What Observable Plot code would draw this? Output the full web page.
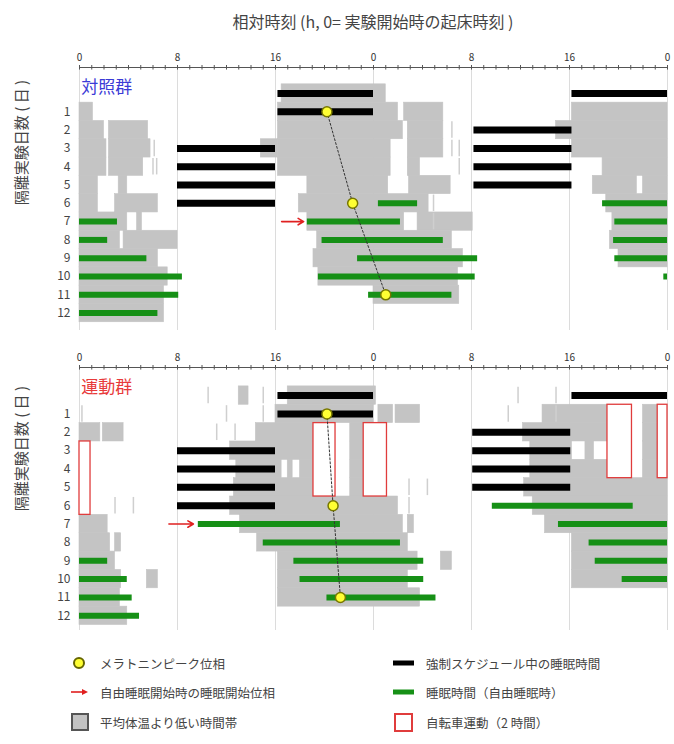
<!DOCTYPE html>
<html><head><meta charset="utf-8">
<script src="https://cdn.jsdelivr.net/npm/d3@7"></script>
<script src="https://cdn.jsdelivr.net/npm/@observablehq/plot@0.6"></script>
<style>
body{margin:0;background:#fff;font-family:"Noto Sans CJK JP",sans-serif;color:#333;}
#wrap{position:relative;width:674px;height:744px;overflow:hidden;}
#title{position:absolute;left:36px;width:674px;top:9px;text-align:center;font-size:16px;color:#444;}
#p1{position:absolute;left:0;top:35px;}
#p2{position:absolute;left:0;top:335px;}
.lg{position:absolute;font-size:12.5px;color:#444;display:flex;align-items:center;height:20px;}
.lg svg{margin-right:10px;}
</style></head>
<body><div id="wrap">
<div id="title">相対時刻 (h, 0= 実験開始時の起床時刻 )</div>
<div id="p1"></div><div id="p2"></div>
<div class="lg" style="left:70px;top:653px"><svg width="20" height="20"><circle cx="9" cy="10" r="5" fill="#ffff33" stroke="#666600" stroke-width="2"/></svg>メラトニンピーク位相</div>
<div class="lg" style="left:70px;top:682px"><svg width="20" height="20"><line x1="1" y1="10" x2="15" y2="10" stroke="#e02020" stroke-width="1.6"/><path d="M12,7 L18,10 L12,13 Z" fill="#e02020"/></svg>自由睡眠開始時の睡眠開始位相</div>
<div class="lg" style="left:70px;top:712px"><svg width="20" height="20"><rect x="2" y="2" width="16" height="16" fill="#c3c3c3" stroke="#555" stroke-width="2"/></svg>平均体温より低い時間帯</div>
<div class="lg" style="left:392px;top:653px"><svg width="24" height="20"><line x1="1" y1="10" x2="22" y2="10" stroke="#000" stroke-width="5"/></svg>強制スケジュール中の睡眠時間</div>
<div class="lg" style="left:392px;top:682px"><svg width="24" height="20"><line x1="1" y1="10" x2="22" y2="10" stroke="#169016" stroke-width="5"/></svg>睡眠時間（自由睡眠時）</div>
<div class="lg" style="left:392px;top:712px"><svg width="24" height="20"><rect x="3" y="2" width="17" height="17" fill="#fff" stroke="#e03c3c" stroke-width="2"/></svg>自転車運動（2 時間）</div>
</div>
<script>
// ---------- shared ticks ----------
const hourTicks = d3.range(0, 49);
const majorTicks = [0, 8, 16, 24, 32, 40, 48];
const dayLabels = d3.range(1, 13);

// ---------- 対照群 (control) : [row, startHour, endHour] ----------
const ctrlForced = [[0,16.2,24],[1,16.2,24],[3,8,16],[4,8,16],[5,8,16],[6,8,16],
  [0,40.2,48],[2,32.2,40.2],[3,32.2,40.2],[4,32.2,40.2],[5,32.2,40.2]];
const ctrlFree = [[7,0,3.1],[8,0,2.3],[9,0,5.5],[10,0,8.4],[11,0,8.1],[12,0,6.4],
  [6,24.4,27.6],[7,18.6,26.2],[8,19.8,29.7],[9,22.7,32.5],[10,19.5,32.3],[11,23.6,30.4],
  [6,42.7,48],[7,43.7,48],[8,43.6,48],[9,43.7,48],[10,47.7,48]];
const ctrlLow = [[1,0,1.1],[2,0,2.0],[2,2.4,5.6],[3,0,2.2],[3,2.4,5.8],[3,14.8,16.2],
  [4,0,2.2],[4,2.4,5.2],[5,0,1.5],[5,3.2,3.9],[6,0,1.5],[6,2.9,6.4],
  [7,0,3.9],[7,4.7,5.1],[8,0,3.3],[8,3.6,8.0],[9,0,6.4],[10,0,7.2],[11,0,6.9],[12,0,6.9],
  [0,16.5,25.0],[1,16.2,26.0],[1,26.5,29.7],[2,16.2,26.4],[2,26.8,29.7],
  [3,16.2,25.4],[3,26.8,29.7],[4,16.2,25.4],[4,26.8,27.8],[5,18.6,25.2],[5,26.9,30.3],
  [6,17.9,28.5],[7,18.6,26.5],[7,27.6,32.1],[8,19.4,30.4],[9,19.1,31.3],[10,19.5,30.9],[11,24.0,31.0],
  [1,40.2,48],[2,38.9,48],[3,40.2,48],[4,42.7,48],[5,41.9,45.5],[5,46.0,48],
  [6,43.0,48],[7,43.5,48],[8,43.3,48],[9,44.0,48]];
const ctrlFaint = [[3,6.1],[4,6.0],[4,6.3],[2,30.4],[3,30.4],[3,31.0],[4,31.0],[6,28.9],[7,28.9]];
const ctrlMelatonin = [[1,20.2],[6,22.3],[11,25.0]];
const ctrlArrow = [[7,16.5,18.3]];
const ctrlBike = [];

// ---------- 運動群 (exercise) ----------
const exForced = [[0,16.2,24],[1,16.2,24],[3,8,16],[4,8,16],[5,8,16],[6,8,16],
  [0,40.2,48],[2,32.1,40.1],[3,32.1,40.1],[4,32.1,40.1],[5,32.1,40.1]];
const exFree = [[9,0,2.3],[10,0,3.9],[11,0,4.3],[12,0,4.9],
  [7,9.7,21.3],[8,15.0,26.2],[9,17.5,28.1],[10,18.0,28.1],[11,20.2,29.1],
  [6,33.7,45.2],[7,39.1,48],[8,41.6,48],[9,42.1,48],[10,44.3,48]];
const exLow = [[0,13.0,13.8],[2,0,1.7],[2,1.9,3.6],[7,0,2.3],[8,0,2.5],[8,2.9,3.4],[9,0,2.9],
  [10,0,3.4],[10,5.5,6.4],[11,0,3.3],[12,0,3.9],
  [0,17.0,24.2],[1,16.0,24.0],[1,24.4,25.6],[1,25.8,27.8],
  [2,14.4,19.1],[2,22.1,23.2],[3,12.3,19.1],[3,22.1,23.2],
  [4,12.8,16.5],[4,17.0,17.4],[4,18.0,19.1],[4,22.1,23.2],[5,12.6,19.1],[5,22.1,23.2],
  [6,12.3,26.0],[7,13.1,26.4],[7,26.8,27.3],[8,14.5,26.8],[9,16.2,27.6],[9,29.5,30.4],
  [10,16.2,26.8],[11,16.2,27.8],
  [1,37.8,43.1],[1,46.0,47.2],[2,36.2,43.1],[2,46.0,47.2],[3,36.8,40.2],[3,41.3,42.0],[3,46.0,47.2],
  [4,36.8,43.1],[4,46.0,47.2],[5,36.3,48],[6,37.0,48],[7,38.0,48],[8,40.2,48],[9,40.2,48],[10,40.2,48]];
const exFaint = [[0,10.5],[0,15.0],[1,0.2],[1,12.0],[1,15.0],[2,11.2],[2,12.7],[6,2.9],[6,4.4],
  [5,26.9],[5,28.4],[6,26.9],[0,35.8],[0,38.9],[1,35.0],[1,38.9]];
const exMelatonin = [[1,20.2],[6,20.7],[11,21.3]];
const exArrow = [[7,7.3,9.3]];
// [firstRow, lastRow, startHour, endHour]
const exBike = [[2,5,19.1,20.9],[2,5,23.2,25.1],[1,4,43.1,45.1],[1,4,47.2,48],[3,6,0,0.9]];

function panel(o) {
  const yMin = o.yMin, yMax = o.yMax;
  return Plot.plot({
    width: 674, height: 300,
    marginLeft: 79, marginRight: 7, marginTop: 32, marginBottom: 5,
    style: {fontFamily: "'Noto Sans CJK JP', sans-serif", color: "#333", background: "transparent"},
    x: {domain: [0, 48], axis: null},
    y: {domain: [yMin, yMax], range: [32, 295], axis: null},
    marks: [
      Plot.ruleX(majorTicks, {x: d => d, stroke: "#dcdcdc", strokeWidth: 1}),
      Plot.rect(o.low, {x1: d => d[1], x2: d => d[2], y1: d => d[0] - 0.5, y2: d => d[0] + 0.5, fill: "#c4c4c4", stroke: "#c4c4c4", strokeWidth: 0.6}),
      Plot.ruleX(o.faint, {x: d => d[1], y1: d => d[0] - 0.45, y2: d => d[0] + 0.45, stroke: "#cfcfcf", strokeWidth: 1.5}),
      Plot.rect(o.bike, {x1: d => d[2], x2: d => d[3], y1: d => d[0] - 0.5, y2: d => d[1] + 0.5, fill: "white", stroke: "#e03c3c", strokeWidth: 1.3}),
      Plot.ruleY(o.forced, {y: d => d[0], x1: d => d[1], x2: d => d[2], stroke: "#000", strokeWidth: 7}),
      Plot.ruleY(o.free, {y: d => d[0], x1: d => d[1], x2: d => d[2], stroke: "#169016", strokeWidth: 6}),
      Plot.line(o.mel, {x: d => d[1], y: d => d[0], stroke: "#333", strokeWidth: 1, strokeDasharray: "2,2"}),
      Plot.arrow(o.arrow, {x1: d => d[1], x2: d => d[2], y1: d => d[0], y2: d => d[0], stroke: "#e02020", strokeWidth: 1.6, headLength: 6}),
      Plot.dot(o.mel, {x: d => d[1], y: d => d[0], r: 5, fill: "#ffff33", stroke: "#777700", strokeWidth: 1.5}),
      Plot.ruleY([yMin], {stroke: "#555", strokeWidth: 1}),
      Plot.ruleX(hourTicks, {x: d => d, y1: yMin, y2: yMin + 0.14, stroke: "#555", strokeWidth: 1}),
      Plot.axisX(hourTicks, {anchor: "top", tickSize: 3, tickPadding: 4, fontSize: 10, stroke: "#555", fill: "#333",
        tickFormat: d => d % 8 === 0 ? String(d % 24) : "", label: null}),
      Plot.axisY(dayLabels, {anchor: "left", tickSize: 0, tickPadding: 9, fontSize: 12, fill: "#444", label: null}),
      Plot.text(["隔離実験日数 ( 日 )"], {y: () => o.ylabRow, frameAnchor: "left", dx: -57, rotate: -90, fontSize: 15, fill: "#444"}),
      Plot.text([o.label], {x: () => 0.15, y: () => o.labelRow, textAnchor: "start", fontSize: 17, fill: o.labelColor})
    ]
  });
}

document.getElementById("p1").append(panel({
  yMin: -1.42, yMax: 12.95, forced: ctrlForced, free: ctrlFree, low: ctrlLow, faint: ctrlFaint,
  mel: ctrlMelatonin, arrow: ctrlArrow, bike: ctrlBike, label: "対照群", labelColor: "#3b3bd6",
  labelRow: -0.3, ylabRow: 6.1
}));
document.getElementById("p2").append(panel({
  yMin: -1.53, yMax: 12.8, forced: exForced, free: exFree, low: exLow, faint: exFaint,
  mel: exMelatonin, arrow: exArrow, bike: exBike, label: "運動群", labelColor: "#e83a3a",
  labelRow: -0.45, ylabRow: 6.3
}));
</script>
</body></html>
